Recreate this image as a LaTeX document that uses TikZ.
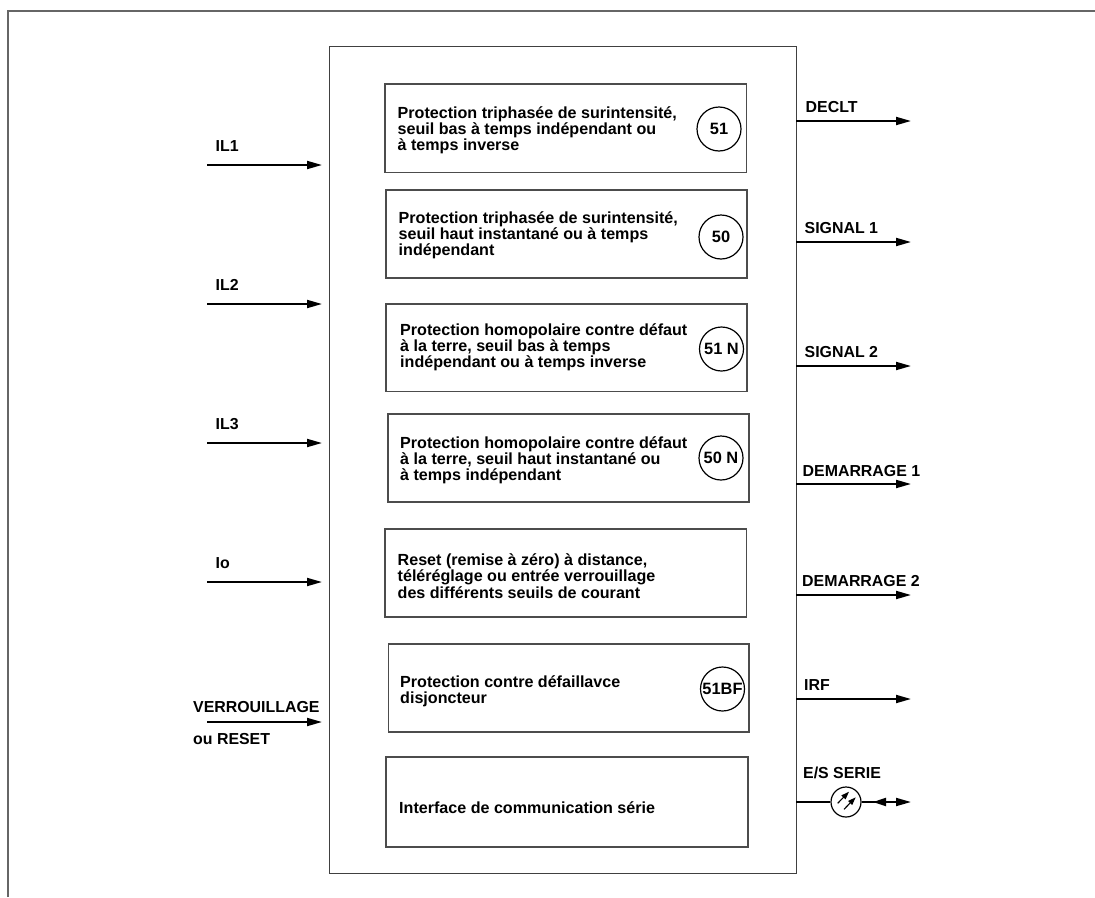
\documentclass[tikz,border=0pt]{standalone}
\usepackage{fontspec}
\setmainfont{Liberation Sans}
\usetikzlibrary{arrows.meta}
\tikzset{
  x=1pt,y=-1pt,
  frameline/.style={draw=black!60,line width=1.6pt},
  outerbox/.style={draw=black!75,line width=1.2pt},
  fnbox/.style={draw=black!70,line width=1.2pt},
  sig/.style={line width=1.9pt,-{Triangle[length=15pt,width=8pt]}},
  fnum/.style={circle,draw=black,line width=1.2pt,minimum size=44pt,inner sep=0pt,font=\fontsize{16.4}{18}\selectfont\bfseries},
  lbl/.style={anchor=base west,inner sep=0pt,font=\fontsize{15.9}{18}\selectfont\bfseries},
  desc/.style={anchor=west,inner sep=0pt,align=left,font=\fontsize{16.1}{16.2}\selectfont\bfseries},
}
\begin{document}
\begin{tikzpicture}
\useasboundingbox (0,0) rectangle (1095,897);
\fill[white] (0,0) rectangle (1095,897);
\coordinate (ftr) at (1095,11);
\coordinate (ftl) at (8,11);
\coordinate (fbl) at (8,897);
\draw[frameline] (fbl) -- (ftl) -- (ftr);
\node[outerbox,minimum width=467pt,minimum height=827pt,inner sep=0pt,anchor=north west] (main) at (329,45.5) {};
% function boxes
\draw[fnbox] (385,84) rectangle (746.5,172.5);
\draw[fnbox] (386,190) rectangle (747,278);
\draw[fnbox] (386,304) rectangle (747,391.5);
\draw[fnbox] (388,414) rectangle (749,502);
\draw[fnbox] (385,529) rectangle (746.5,617);
\draw[fnbox] (388.5,644) rectangle (749,732);
\draw[fnbox] (386,757) rectangle (748,847);
\node[desc] (t1) at (397.5,130) {Protection triphasée de surintensité,\\seuil bas à temps indépendant ou\\à temps inverse};
\node[desc] (t2) at (398.5,235) {Protection triphasée de surintensité,\\seuil haut instantané ou à temps\\indépendant};
\node[desc] (t3) at (400,347) {Protection homopolaire contre défaut\\à la terre, seuil bas à temps\\indépendant ou à temps inverse};
\node[desc] (t4) at (400,460) {Protection homopolaire contre défaut\\à la terre, seuil haut instantané ou\\à temps indépendant};
\node[desc] (t5) at (397.5,576) {Reset (remise à zéro) à distance,\\téléréglage ou entrée verrouillage\\des différents seuils de courant};
\node[desc] (t6) at (400,691) {Protection contre défaillavce\\disjoncteur};
\node[desc] (t7) at (399,808) {Interface de communication série};
\node[fnum] (c1) at (719,129) {51};
\node[fnum] (c2) at (721,237) {50};
\node[fnum] (c3) at (721.5,349) {51 N};
\node[fnum] (c4) at (721,458) {50 N};
\node[fnum] (c5) at (722.5,689) {51BF};
% inputs
\foreach \n/\y/\t in {a/165/IL1,b/304/IL2,c/443/IL3,d/582/Io}{
  \coordinate (i\n) at (207,\y);
  \coordinate (j\n) at (322,\y);
  \draw[sig] (i\n) -- (j\n);
  \node[lbl] at (215.5,\y-13.5) {\t};
}
\coordinate (ie) at (207,722);
\coordinate (je) at (322,722);
\draw[sig] (ie) -- (je);
\node[lbl] at (193,712) {VERROUILLAGE};
\node[lbl] at (193,744) {ou RESET};
% outputs
\foreach \n/\y/\x/\b/\t in {a/121/805.5/112/DECLT,b/242/804.5/233/SIGNAL 1,c/366/804.5/357.5/SIGNAL 2,d/484/802.5/476/DEMARRAGE 1,e/595/802/586/DEMARRAGE 2,f/699/804/690/IRF}{
  \coordinate (o\n) at (796,\y);
  \coordinate (p\n) at (911,\y);
  \draw[sig] (o\n) -- (p\n);
  \node[lbl] at (\x,\b) {\t};
}
% serial
\node[lbl] at (803,778) {E/S SERIE};
\node[circle,draw=black,line width=1.2pt,minimum size=30pt,inner sep=0pt] (ser) at (846,802) {};
\coordinate (sl) at (796,802);
\coordinate (sr) at (911,802);
\coordinate (sm) at (887,802);
\coordinate (ua) at (837.7,803.3);
\coordinate (ub) at (849,791.7);
\coordinate (va) at (844,809.3);
\coordinate (vb) at (855.7,797.3);
\draw[line width=1.9pt] (sl) -- (ser);
\draw[sig] (ser) -- (sr);
\draw[line width=1.9pt,-{Triangle[length=13pt,width=8pt]}] (sm) -- (873,802);
\draw[line width=1.1pt,-{Triangle[length=8pt,width=5.5pt]}] (ua) -- (ub);
\draw[line width=1.1pt,-{Triangle[length=8pt,width=5.5pt]}] (va) -- (vb);
\end{tikzpicture}
\end{document}
